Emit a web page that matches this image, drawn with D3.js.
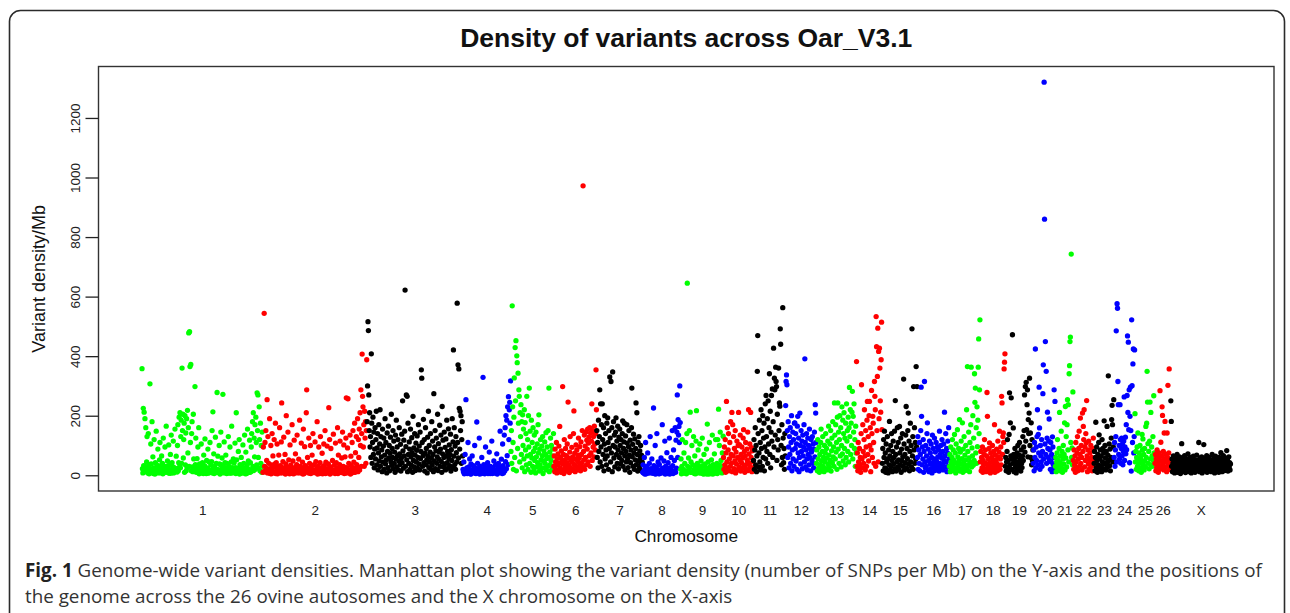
<!DOCTYPE html>
<html><head><meta charset="utf-8">
<script src="https://cdn.jsdelivr.net/npm/d3@7"></script>
<style>body{margin:0;background:#fff}svg{display:block}</style>
</head><body>
<svg id="chart" width="1290" height="613"></svg>
<script>
// ---- data ----
const chromosomes = ["1","2","3","4","5","6","7","8","9","10","11","12","13","14","15","16","17","18","19","20","21","22","23","24","25","26","X"];
const yTicks = [0,200,400,600,800,1000,1200];
const titleText = "Density of variants across Oar_V3.1";
const xTitle = "Chromosome";
const yTitle = "Variant density/Mb";
const captionBold = "Fig. 1";
const captionLine1 = " Genome-wide variant densities. Manhattan plot showing the variant density (number of SNPs per Mb) on the Y-axis and the positions of";
const captionLine2 = "the genome across the 26 ovine autosomes and the X chromosome on the X-axis";

const chr1 = [358,22,8,225,32,212,15,190,30,160,12,45,130,18,8,140,28,5,35,307,
12,105,38,15,180,20,62,6,25,120,18,4,42,16,148,10,34,8,88,20,
25,9,52,110,8,32,16,65,13,40,5,125,20,9,30,95,14,12,165,30,
10,48,11,24,102,7,36,7,70,16,135,8,42,13,28,115,8,26,19,155,
20,14,64,22,11,100,170,15,42,195,28,210,25,130,185,40,360,150,205,58,
120,175,10,200,35,142,15,190,25,218,75,160,478,30,482,365,110,372,15,140,
180,28,12,205,55,18,20,298,36,125,10,24,56,12,95,22,160,5,38,10,
28,8,105,16,9,42,18,6,68,14,32,122,14,22,6,50,8,25,88,7,
20,45,12,110,10,35,12,46,150,8,213,24,72,6,30,15,128,18,40,9,
278,20,64,11,14,100,38,4,36,145,16,22,58,10,272,35,8,112,16,42,
10,68,25,6,40,14,22,130,12,30,7,95,20,8,45,165,8,26,12,55,
18,42,10,108,26,6,210,52,10,24,9,80,15,120,4,36,14,18,60,8,
28,8,102,20,40,12,135,22,5,78,24,6,34,155,14,48,10,20,118,10,
42,12,95,140,18,180,30,210,16,125,62,170,20,195,110,35,277,150,270,60,
25,230,120,15,175,40,100,10,145,30];
const chr2 = [10,95,12,544,30,110,12,150,25,50,254,8,130,18,40,8,190,22,6,100,
5,35,140,14,65,10,28,120,8,38,175,6,42,16,105,5,30,14,68,20,
160,8,32,9,112,243,24,8,46,12,128,25,12,70,4,38,200,18,8,28,
145,10,52,26,5,102,10,34,11,20,170,6,48,20,5,118,26,12,72,15,
14,36,135,8,28,10,54,22,185,8,30,10,108,22,8,44,4,155,18,6,
96,24,32,12,210,287,14,60,10,24,125,7,40,20,100,6,28,15,68,12,
140,18,9,36,9,112,16,46,12,22,180,4,30,12,95,8,6,42,130,18,
8,26,74,5,25,11,105,32,10,150,6,44,20,8,98,22,12,38,227,14,
120,4,28,90,8,16,10,50,16,138,10,34,18,6,108,12,42,8,25,160,
6,68,22,12,36,115,10,20,9,58,18,145,12,30,102,6,24,62,8,125,
260,26,8,92,257,16,40,12,18,135,4,64,32,8,110,20,150,10,44,24,
175,10,76,14,130,36,25,190,12,120,60,155,18,210,100,287,30,140,407,265,
230,95,170,30,215,125,180,40,150,388];
const chr3 = [180,300,516,486,270,150,210,95,130,60,408,175,40,110,195,70,145,25,88,160,
55,120,215,35,92,140,18,75,170,48,105,220,30,130,62,85,12,155,44,98,
125,20,68,190,38,110,52,8,142,80,26,165,58,100,15,74,128,45,205,34,
90,60,150,22,115,40,78,10,135,55,185,28,95,66,120,18,48,160,72,36,
104,14,58,138,42,250,82,24,118,65,148,622,30,96,270,52,265,12,175,70,
40,112,88,20,155,62,34,126,76,10,198,50,92,28,140,68,16,108,45,84,
132,24,60,170,38,98,18,145,56,80,354,326,110,30,66,188,42,120,14,74,
160,36,90,52,8,128,64,215,26,100,44,78,140,20,58,180,34,115,70,12,
274,48,95,150,22,82,125,40,62,205,16,106,54,78,168,30,88,135,46,10,
231,72,118,28,60,145,38,94,18,122,66,185,42,80,24,156,56,102,32,70,
138,14,86,50,190,26,112,421,64,160,36,98,20,130,76,45,578,110,371,58,
357,225,88,215,150,200,40,120,180,65];
const chr4 = [20,12,45,5,8,70,10,254,8,25,6,15,110,10,28,10,55,8,4,38,
5,18,65,12,9,32,10,14,100,25,7,6,22,179,8,40,14,11,22,125,
4,30,8,16,6,60,8,20,329,12,36,12,5,24,95,10,26,10,18,42,
6,14,28,78,10,6,30,12,20,115,6,24,14,9,48,8,16,8,34,12,
16,72,4,22,8,40,20,10,28,148,10,14,54,24,6,105,32,8,20,135,
14,160,46,200,22,185,66,230,36,264,120,220,245,175,317];
const chr5 = [80,150,40,569,230,110,20,195,327,60,429,250,452,15,401,378,90,343,175,287,
265,45,210,130,237,70,180,25,203,100,155,55,220,12,177,85,140,35,265,65,
120,20,200,95,293,40,148,70,10,185,58,110,30,160,80,18,135,50,92,8,
145,62,28,105,42,170,75,203,14,88,35,120,52,22,98,66,130,6,48,82,
25,112,40,70,143,18,56,95,30,150,60,293,12,78,36,125,50,100,20,65,
88,30,140];
const chr6 = [30,65,12,88,45,20,110,8,56,35,72,15,98,40,164,25,60,10,82,48,
18,298,38,70,6,120,52,28,90,14,66,42,105,22,246,58,34,9,78,130,
26,50,16,94,44,62,20,140,216,36,74,12,55,102,30,85,18,46,68,125,
24,58,96,38,15,112,70,42,150,28,972,80,52,135,20,98,60,145,35,118,
88,155,45,108,128,66,160,30,142,75,115,240,50,150,95,130,62,165,105,85,
140,354,220];
const chr7 = [150,60,110,25,185,80,130,287,45,240,95,170,30,240,120,70,160,15,105,200,
55,140,85,35,175,65,193,110,20,150,90,330,125,45,315,75,160,12,347,100,
180,58,135,28,95,145,193,70,115,40,165,85,22,128,60,155,100,38,120,75,
50,140,183,30,90,112,175,65,18,132,80,45,170,108,55,26,96,150,68,10,
118,42,85,160,293,62,104,30,138,75,20,122,52,90,243,36,210,70,14,110,
48,130,24,82,58,100,35,68,15,44];
const chr8 = [10,35,8,15,60,4,22,110,5,6,30,10,75,8,18,10,40,8,130,12,
22,12,55,8,14,7,226,32,6,16,100,4,28,10,140,20,10,45,12,5,
36,6,18,9,58,8,18,170,24,10,12,48,14,115,4,30,8,14,76,20,
6,42,8,20,125,4,26,16,60,10,16,150,32,6,85,10,50,12,160,10,
118,24,145,270,60,187,135,164,110,300,177];
const chr9 = [20,55,5,30,120,8,20,8,75,15,40,8,110,15,5,140,645,30,12,58,
12,150,25,212,10,45,10,100,10,35,10,130,18,6,65,28,5,115,217,18,
40,12,85,14,8,30,105,10,8,48,20,8,125,6,32,4,70,12,6,38,
10,25,88,4,172,10,45,16,4,110,8,30,8,6,52,22,135,4,36,10,
6,72,28,10,120,14,12,40,6,120,24,222,12,100,34,145,12,50,18,8,
75,30,131];
const chr10 = [60,20,95,35,120,10,75,248,45,160,25,85,140,15,55,110,30,180,70,40,
211,12,170,65,130,22,90,48,150,8,78,38,115,18,60,100,211,28,103,52,
135,14,70,42,95,24,58,125,153,32,80,10,64,110,36,20,88,50,145,16,
220,72,40,105,28,211,60,93,12,82,45,25];
const chr11 = [50,120,20,85,160,35,100,12,65,349,469,140,28,75,185,45,110,18,220,90,
150,30,200,60,125,175,15,95,240,55,268,130,80,190,40,250,105,160,341,70,
215,25,145,268,115,290,60,180,427,95,326,287,135,363,315,298,50,205,120,85,
360,150,243,232,492,440,100,35,170,60,563,125,42,90,20,140,65];
const chr12 = [234,315,337,304,150,60,180,95,25,130,70,160,40,110,200,15,85,145,55,120,
30,175,176,90,140,48,105,20,165,198,75,125,12,60,209,100,38,150,80,115,
22,135,65,95,170,45,391,110,28,85,140,55,18,125,70,100,35,155,60,90,
15,120,78,50,130,40,105,25,88,145,62,237,209,110];
const chr13 = [40,85,15,120,55,25,95,10,70,35,110,155,48,20,80,130,30,60,12,100,
45,75,140,22,90,58,18,115,38,165,68,28,105,50,150,14,82,125,42,180,
62,95,30,243,135,55,170,78,110,20,195,243,88,145,40,120,200,65,160,28,
100,230,72,185,48,140,210,90,125,35,175,60,240,115,150,80,195,45,160,295,
130,220,70,175,100,212,282,55,198,145,240,90,120,30,165,75];
const chr14 = [382,30,75,15,110,45,20,90,35,60,10,140,304,55,25,170,80,40,120,220,
65,18,150,95,30,185,248,70,130,48,200,248,100,160,12,85,285,140,60,198,
175,110,40,315,265,220,30,533,432,150,332,494,45,416,190,427,360,250,212,388,
514,153];
const chr15 = [40,90,15,120,60,148,25,75,10,105,45,20,130,55,8,85,35,181,65,18,
100,30,140,50,12,80,115,38,60,148,22,251,70,14,95,45,160,28,110,52,
20,164,75,35,125,10,88,48,140,62,30,323,105,18,70,42,135,231,25,90,
56,150,209,38,115,15,80,175,45,100,28,492,65,130,20,298,85,160,40,110,
55,365,95,298];
const chr16 = [60,130,20,85,40,110,15,70,150,296,198,35,95,55,120,10,80,315,45,25,
100,30,65,140,176,18,88,50,12,115,38,75,22,105,60,8,135,42,90,28,
55,125,16,78,35,110,48,20,95,62,30,85,14,148,40,70,100,25,58,120,
36,80,18,105,50,212,65,28,140,45,90,12,75,115,30,160,55];
const chr17 = [30,70,12,95,45,20,60,120,35,85,15,50,137,25,75,8,105,40,18,153,
62,28,90,48,187,14,78,38,115,22,56,176,10,88,42,130,30,68,16,100,
52,220,24,365,80,36,145,58,12,110,44,170,363,28,92,65,200,34,125,50,
341,245,293,75,160,40,230,96,185,363,458,140,287,522];
const chr18 = [45,80,15,60,25,95,10,50,35,70,120,20,85,40,12,65,278,198,30,55,
18,90,109,42,8,75,28,60,14,100,48,22,80,36,170,10,68,52,25,88,
40,15,115,62,30,78,148,20,55,95,35,265,243,70,130,142,110,357,380,408];
const chr19 = [30,60,15,45,80,120,25,50,10,137,277,35,176,65,260,20,55,472,40,159,
70,12,48,90,28,60,8,38,75,18,100,45,22,68,110,32,55,14,85,40,
26,65,130,50,95,150,270,78,298,115,312,153,237,287,62,187,140,209,326,100,
142,60,176,35,120,50,85];
const chr20 = [40,85,15,110,60,424,25,95,50,130,220,35,137,75,296,159,20,100,65,45,
120,30,80,274,371,55,1320,860,105,449,70,349,40,125,212,90,60,115,189,50,
85,20,110,45,70,12,129,95,35,60,287,25,248];
const chr21 = [30,60,12,45,75,120,20,50,35,90,211,15,65,40,148,25,80,10,55,100,
38,70,176,18,231,58,130,28,170,254,85,237,45,341,368,449,464,110,743,60,
92,35,280];
const chr22 = [50,20,85,35,65,10,110,45,25,75,130,15,55,90,148,30,70,192,40,100,
60,18,209,80,164,120,220,28,95,50,140,109,251,65,12,85,38,115,55,22,
75,42,100,30,60,15,90,48,125,35];
const chr23 = [40,80,15,60,178,25,95,50,10,70,35,110,136,20,55,85,30,65,12,120,
45,90,22,75,183,38,100,58,18,80,42,164,28,68,334,50,105,32,88,15,
60,125,187,235,170,45,95,254];
const chr24 = [60,110,30,85,130,485,45,576,561,315,237,70,100,55,237,120,40,90,125,65,
105,35,80,115,263,50,95,128,72,170,86,268,468,211,447,153,287,42,198,296,
150,14,522,301,110,374,424,75,130,421];
const chr25 = [207,45,80,20,60,95,30,142,55,15,75,40,100,25,65,10,50,137,85,122,
35,70,18,90,48,28,164,60,175,349,246,106,40,80,22,115,246,55,211,35,
95,65,30,130,50,267,75,40];
const chr26 = [40,70,15,55,25,85,35,60,10,45,75,20,284,50,111,30,65,230,201,40,
80,18,142,55,181,28,70,45,12,142,60,302,35,75,357,20,50,30];
const chrX = [250,181,30,55,12,40,65,20,48,8,35,60,18,44,25,70,10,52,28,38,
15,62,32,6,46,22,106,40,58,14,30,50,20,66,36,9,45,26,55,16,
38,72,24,12,48,34,60,18,42,8,28,54,20,38,64,14,46,30,10,52,
25,40,68,16,35,50,22,110,44,12,58,28,36,18,62,8,42,30,50,103,
20,34,56,14,40,26,66,10,48,32,22,60,38,16,52,28,44,12,36,70,
24,46,18,58,30,8,42,64,20,36,52,14,28,48,38,10,60,26,44,18,
76,32,54,12,40,22,66,30,48,16,36,58,24,44,83,20,50,14,34,62,
28,42,18,38];

const seriesValues = [chr1,chr2,chr3,chr4,chr5,chr6,chr7,chr8,chr9,chr10,chr11,chr12,chr13,
  chr14,chr15,chr16,chr17,chr18,chr19,chr20,chr21,chr22,chr23,chr24,chr25,chr26,chrX];
const palette = ["#00ff00","#ff0000","#000000","#0000ff"];

// ---- build ----
const svg = d3.select("#chart");
const points = [];
const spans = [];
let k = 0;
seriesValues.forEach((vals, ci) => {
  const start = k;
  vals.forEach(v => points.push({i: k++, v: v, ci: ci}));
  spans.push({name: chromosomes[ci], mid: (start + k - 1) / 2});
});
const n = k;

const plot = {left: 98.5, right: 1274, top: 66.5, bottom: 491};
const x = d3.scaleLinear().domain([-(n - 1) * 0.04, (n - 1) * 1.04]).range([plot.left, plot.right]);
const vmax = d3.max(points, d => d.v);
const yr = vmax - 0;
const y = d3.scaleLinear().domain([0 - yr * 0.04, vmax + yr * 0.04]).range([plot.bottom, plot.top]);

// outer rounded frame
svg.append("rect").attr("x", 9.5).attr("y", 10.5).attr("width", 1275).attr("height", 700)
  .attr("rx", 11).attr("fill", "none").attr("stroke", "#2b2b2b").attr("stroke-width", 1.6);

// title
svg.append("text").attr("x", (plot.left + plot.right) / 2).attr("y", 47)
  .attr("text-anchor", "middle").attr("font-family", "Liberation Sans, Arial, sans-serif")
  .attr("font-weight", "bold").attr("font-size", 26.5).attr("fill", "#111").text(titleText);

// points
svg.append("g").selectAll("circle").data(points).join("circle")
  .attr("cx", d => x(d.i)).attr("cy", d => y(d.v)).attr("r", 2.65)
  .attr("fill", d => palette[d.ci % 4]);

// plot box
svg.append("rect").attr("x", plot.left).attr("y", plot.top)
  .attr("width", plot.right - plot.left).attr("height", plot.bottom - plot.top)
  .attr("fill", "none").attr("stroke", "#333").attr("stroke-width", 1.4);

// y axis
const yAxis = svg.append("g").attr("transform", `translate(${plot.left},0)`)
  .call(d3.axisLeft(y).tickValues(yTicks).tickSize(13).tickFormat(d3.format("d")));
yAxis.select(".domain").remove();
yAxis.selectAll(".tick line").attr("stroke", "#222").attr("stroke-width", 1.3);
yAxis.selectAll(".tick text")
  .attr("transform", "rotate(-90)").attr("x", 0).attr("y", -19).attr("dy", null)
  .attr("text-anchor", "middle").attr("font-family", "Liberation Sans, Arial, sans-serif")
  .attr("font-size", 13.5).attr("fill", "#222");

// x axis labels (no ticks)
const xAxis = svg.append("g").attr("transform", `translate(0,${plot.bottom})`)
  .call(d3.axisBottom(x).tickValues(spans.map(s => s.mid)).tickSize(0)
    .tickFormat((d, i) => spans[i].name));
xAxis.select(".domain").remove();
xAxis.selectAll(".tick text").attr("y", 24).attr("dy", null)
  .attr("font-family", "Liberation Sans, Arial, sans-serif").attr("font-size", 13.5).attr("fill", "#222");

// axis titles
svg.append("text").attr("x", (plot.left + plot.right) / 2).attr("y", 542)
  .attr("text-anchor", "middle").attr("font-family", "Liberation Sans, Arial, sans-serif")
  .attr("font-size", 17.3).attr("fill", "#111").text(xTitle);
svg.append("text").attr("transform", `translate(45,${(plot.top + plot.bottom) / 2}) rotate(-90)`)
  .attr("text-anchor", "middle").attr("font-family", "Liberation Sans, Arial, sans-serif")
  .attr("font-size", 18).attr("fill", "#111").text(yTitle);

// caption
const cap = svg.append("g").attr("font-family", "Open Sans, Noto Sans, sans-serif").attr("fill", "#333");
const l1 = cap.append("text").attr("x", 25).attr("y", 577).attr("font-size", 19);
l1.append("tspan").attr("font-weight", "bold").attr("fill", "#222").text(captionBold);
l1.append("tspan").text(captionLine1);
const l2 = cap.append("text").attr("x", 25).attr("y", 603).attr("font-size", 19).text(captionLine2);
const w1 = l1.node().getComputedTextLength();
const f = 1237 / w1;
l1.attr("font-size", 19 * f);
l2.attr("font-size", 19 * f);
</script>
</body></html>
